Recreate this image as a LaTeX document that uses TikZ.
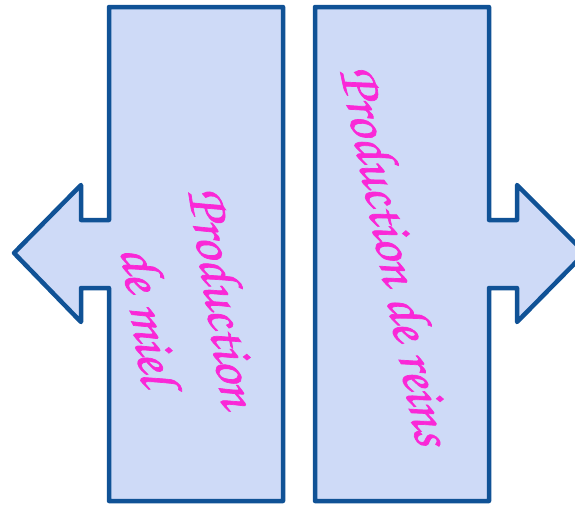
\documentclass[tikz,border=0pt]{standalone}
\usepackage{fontspec}
\newfontfamily\chorusfont[FakeBold=1.2]{texgyrechorus-mediumitalic.otf}
\definecolor{boxfill}{RGB}{206,218,247}
\definecolor{boxline}{RGB}{16,82,150}
\definecolor{txt}{RGB}{250,40,215}
\begin{document}
\begin{tikzpicture}[x=1pt,y=-1pt,
  arrowbox/.style={draw=boxline,line width=4.5pt,fill=boxfill,line join=round},
  label/.style={text=txt,font=\chorusfont\fontsize{57}{57}\selectfont,inner sep=0pt}]
\useasboundingbox (0,0) rectangle (575,506);
% left arrow box
\draw[arrowbox] (109,7) -- (283,7) -- (283,501) -- (109,501) -- (109,288) -- (81,288)
  -- (81,322) -- (14,253) -- (81,185) -- (81,220) -- (109,220) -- cycle;
% right arrow box
\draw[arrowbox] (315,7) -- (489,7) -- (489,220) -- (517,220) -- (517,185)
  -- (585,253) -- (517,322) -- (517,288) -- (489,288) -- (489,501) -- (315,501) -- cycle;
\node[label,rotate=-81] (l1) at (224,297) {Production};
\node[label,rotate=-81] (l2) at (150,315) {de miel};
\node[label,rotate=-78.4] (r1) at (397,255) {Production de reins};
\end{tikzpicture}
\end{document}
